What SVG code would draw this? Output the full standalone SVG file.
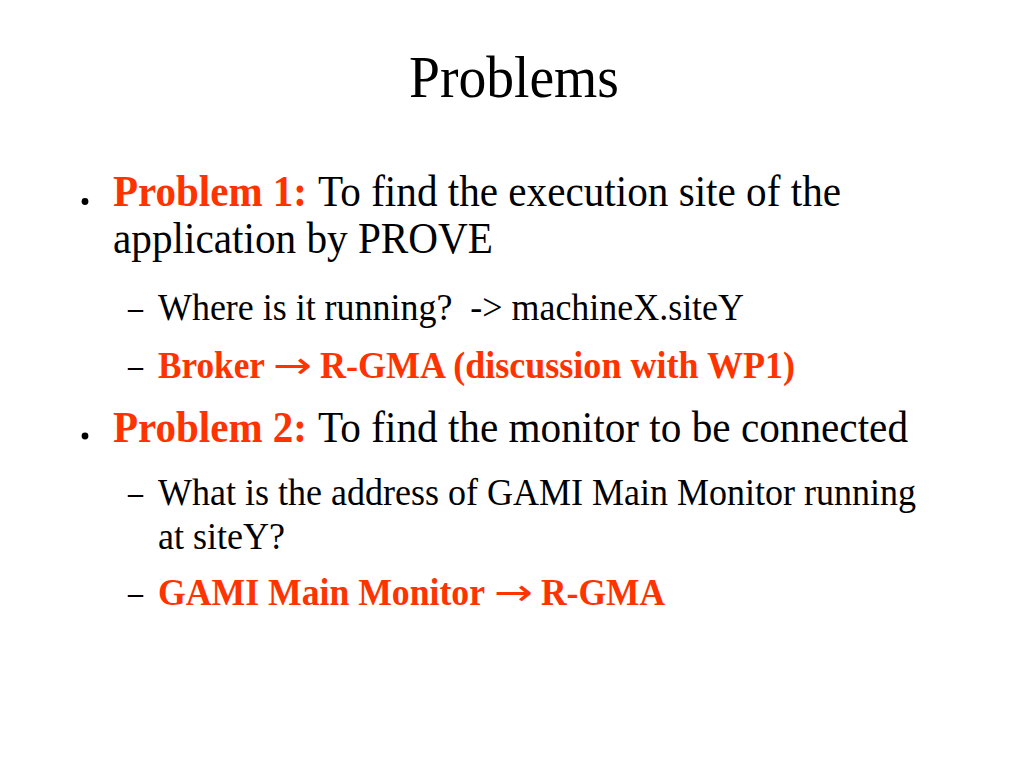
<svg xmlns="http://www.w3.org/2000/svg" width="1023" height="767" viewBox="0 0 1023 767">
<style>
text{font-family:"Liberation Serif","Times New Roman",serif;fill:#000;white-space:pre}
.title{font-size:59px}
.l1{font-size:44px}
.l2{font-size:37px}
.red{fill:#FF3300;font-weight:bold}
.arr{font-family:"DejaVu Sans",sans-serif;font-weight:normal}
.dot{fill:#000}
</style>
<rect width="1023" height="767" fill="#fff"/>
<g id="title"><text class="title" x="409" y="97" textLength="210" lengthAdjust="spacingAndGlyphs">Problems</text></g>
<g id="problem1">
<circle class="dot" cx="85" cy="201.5" r="3.4"/>
<text class="l1 red" x="113" y="206" textLength="194" lengthAdjust="spacingAndGlyphs">Problem 1:</text>
<text class="l1" x="318" y="206" textLength="523" lengthAdjust="spacingAndGlyphs">To find the execution site of the</text>
<text class="l1" x="113" y="253" textLength="380" lengthAdjust="spacingAndGlyphs">application by PROVE</text>
</g>
<g id="p1-sub1">
<text class="l2" x="128" y="320" textLength="15" lengthAdjust="spacingAndGlyphs">–</text>
<text class="l2" x="158" y="320" textLength="586" lengthAdjust="spacingAndGlyphs">Where is it running?  -&gt; machineX.siteY</text>
</g>
<g id="p1-sub2">
<text class="l2" x="128" y="378" textLength="15" lengthAdjust="spacingAndGlyphs">–</text>
<text class="l2 red" x="158" y="378" textLength="107" lengthAdjust="spacingAndGlyphs">Broker</text>
<text class="l2 red arr" x="273" y="378" textLength="39" lengthAdjust="spacingAndGlyphs">→</text>
<text class="l2 red" x="320" y="378" textLength="475" lengthAdjust="spacingAndGlyphs">R-GMA (discussion with WP1)</text>
</g>
<g id="problem2">
<circle class="dot" cx="85" cy="436" r="3.4"/>
<text class="l1 red" x="113" y="442" textLength="194" lengthAdjust="spacingAndGlyphs">Problem 2:</text>
<text class="l1" x="318" y="442" textLength="590" lengthAdjust="spacingAndGlyphs">To find the monitor to be connected</text>
</g>
<g id="p2-sub1">
<text class="l2" x="128" y="505" textLength="15" lengthAdjust="spacingAndGlyphs">–</text>
<text class="l2" x="158" y="505" textLength="758" lengthAdjust="spacingAndGlyphs">What is the address of GAMI Main Monitor running</text>
<text class="l2" x="158" y="549" textLength="127" lengthAdjust="spacingAndGlyphs">at siteY?</text>
</g>
<g id="p2-sub2">
<text class="l2" x="128" y="605" textLength="15" lengthAdjust="spacingAndGlyphs">–</text>
<text class="l2 red" x="158" y="605" textLength="327" lengthAdjust="spacingAndGlyphs">GAMI Main Monitor</text>
<text class="l2 red arr" x="494" y="605" textLength="39" lengthAdjust="spacingAndGlyphs">→</text>
<text class="l2 red" x="541" y="605" textLength="124" lengthAdjust="spacingAndGlyphs">R-GMA</text>
</g>
<g id="connectors"/>
</svg>
